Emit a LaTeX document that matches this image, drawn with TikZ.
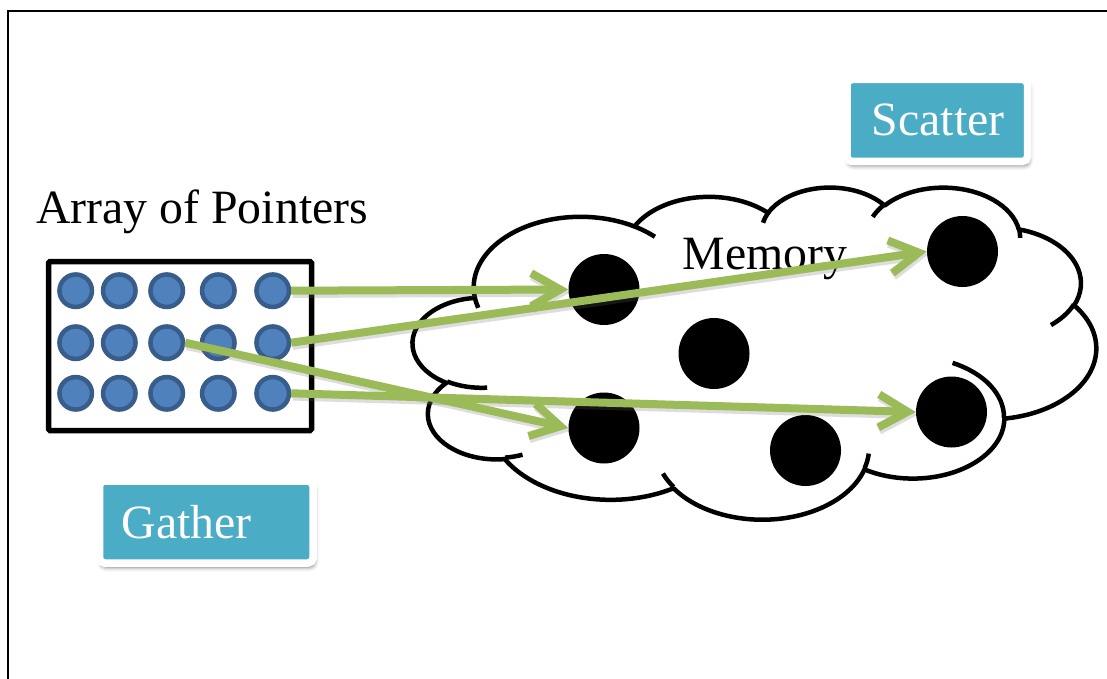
\documentclass[tikz,border=0pt]{standalone}
\usepackage{fontspec}
\setmainfont{Liberation Serif}
\usetikzlibrary{arrows.meta,shadows.blur}

\definecolor{labelfill}{HTML}{4BACC6}
\definecolor{ptrfill}{HTML}{4F81BD}
\definecolor{ptrline}{HTML}{385D8A}
\definecolor{linkgreen}{HTML}{9BBB59}

% One lobe of the cloud outline: elliptic arc given by its radii and by the
% visual start angle and sweep (degrees, y pointing down), continued from
% the current point.
\newcommand\cloudarc[4]{%
  arc[start angle={atan2(#1*sin(#3),#2*cos(#3))},
      delta angle={mod(atan2(#1*sin(#3+#4),#2*cos(#3+#4))-atan2(#1*sin(#3),#2*cos(#3))+720,360)},
      x radius=#1, y radius=#2]}

\tikzset{
  bigtext/.style={font=\fontsize{47.8}{56}\selectfont, inner sep=0pt},
  ptr/.style={circle, fill=ptrfill, draw=ptrline, line width=4.5pt,
    minimum size=32.5pt, inner sep=0pt},
  cell/.style={circle, fill=black, minimum size=71pt, inner sep=0pt},
  cloudline/.style={line width=4.5pt, line join=round},
  labelbox/.style={fill=labelfill, draw=white, line width=7.5pt,
    rounded corners=5pt,
    blur shadow={shadow xshift=1.5pt, shadow yshift=-4pt,
      shadow blur radius=4.5pt, shadow opacity=55}},
  link/.style={linkgreen, line width=8pt,
    -{Straight Barb[length=29pt, width=33pt, line width=8pt]}},
  linkshadow/.style={black!60, opacity=0.22, line width=8.5pt,
    -{Straight Barb[length=29pt, width=33pt, line width=8.5pt]},
    transform canvas={shift={(1.5pt,-3pt)}}},
}

\begin{document}
\begin{tikzpicture}[x=1pt, y=-1pt]
\useasboundingbox (0,0) rectangle (1107,679);
\clip (0,0) rectangle (1107,679);

% page frame
\draw[line width=2.5pt] (8,700) -- (8,11) -- (1120,11);

% caption of the pointer array
\node[bigtext, anchor=base west] (title) at (36,223) {Array of Pointers};

% the array of pointers
\draw[line width=5.5pt, fill=white, rounded corners=1.5pt]
  (48.5,261.5) rectangle (311.5,430.5);
\foreach \r/\y in {1/290.7, 2/342.7, 3/393.3}
  \foreach \c/\x in {1/75.7, 2/119.3, 3/166.7, 4/218.3, 5/272.7}
    \node[ptr] (p\r\c) at (\x,\y) {};

% the memory cloud
\begin{scope}[shift={(413,186.5)}, x=1.58102pt, y=-0.768519pt]
  \draw[cloudline, fill=white] (39.00,143.70)
    \cloudarc{67.53}{91.90}{-190.48748}{123.78053}
    \cloudarc{53.33}{72.67}{-144.10238}{89.94523}
    \cloudarc{43.65}{59.45}{-145.80792}{99.72302}
    \cloudarc{48.57}{65.95}{-130.98607}{117.24173}
    \cloudarc{53.33}{72.73}{-78.70888}{109.02692}
    \cloudarc{67.75}{92.20}{-46.26725}{130.26900}
    \cloudarc{57.85}{78.67}{0.62502}{114.03333}
    \cloudarc{67.52}{92.15}{22.45160}{115.17255}
    \cloudarc{77.20}{105.43}{66.24263}{75.71102}
    \cloudarc{43.60}{59.18}{-274.94208}{146.73557}
    \cloudarc{43.45}{59.45}{-246.82850}{152.51885}
    -- cycle;
  \draw[cloudline] (46.93,261.77) \cloudarc{43.45}{59.45}{86.74200}{26.42950};
  \draw[cloudline] (69.28,348.99) \cloudarc{43.60}{59.18}{73.61047}{11.44747};
  \draw[cloudline] (164.78,390.90) \cloudarc{67.52}{92.15}{137.62415}{14.08110};
  \draw[cloudline] (288.27,347.51) \cloudarc{67.52}{92.15}{6.45327}{15.99835};
  \draw[cloudline] (341.29,229.54) \cloudarc{57.85}{78.67}{-70.29235}{70.91737};
  \draw[cloudline] (417.98,153.54) \cloudarc{53.33}{72.73}{30.31803}{27.75150};
  \draw[cloudline] (383.24,54.26) \cloudarc{48.57}{65.95}{-13.74433}{14.85890};
  \draw[cloudline] (290.78,39.52) \cloudarc{48.57}{65.95}{-149.18145}{18.19537};
  \draw[cloudline] (221.41,47.20) \cloudarc{43.65}{59.45}{-163.49427}{17.68635};
  \draw[cloudline] (140.00,51.92) \cloudarc{67.53}{91.90}{-66.70695}{12.31935};
  \draw[cloudline] (41.27,157.89) \cloudarc{67.53}{91.90}{157.65435}{11.85817};
\end{scope}

\node[bigtext, anchor=base west] (memory) at (682.5,269) {Memory};

% memory cells
\node[cell] (m1) at (604,289.5) {};
\node[cell] (m2) at (714,353.5) {};
\node[cell] (m3) at (962.5,251.5) {};
\node[cell] (m4) at (604,428) {};
\node[cell] (m5) at (805.5,450.5) {};
\node[cell] (m6) at (951.5,412) {};

% labels
\draw[labelbox] (847,79.5) rectangle (1027.5,161.5);
\node[bigtext, text=white, anchor=base west] (scatter) at (871.5,136) {Scatter};
\draw[labelbox] (99.5,481) rectangle (313,563);
\node[bigtext, text=white, anchor=base west] (gather) at (121.5,538) {Gather};

% pointer links
\foreach \a/\b in {p15/m1, p25/m3, p23/m4, p35/m6}
  \draw[linkshadow] (\a.east) -- (\b.west);
\foreach \a/\b in {p15/m1, p25/m3, p23/m4, p35/m6}
  \draw[link] (\a.east) -- (\b.west);
\end{tikzpicture}
\end{document}
